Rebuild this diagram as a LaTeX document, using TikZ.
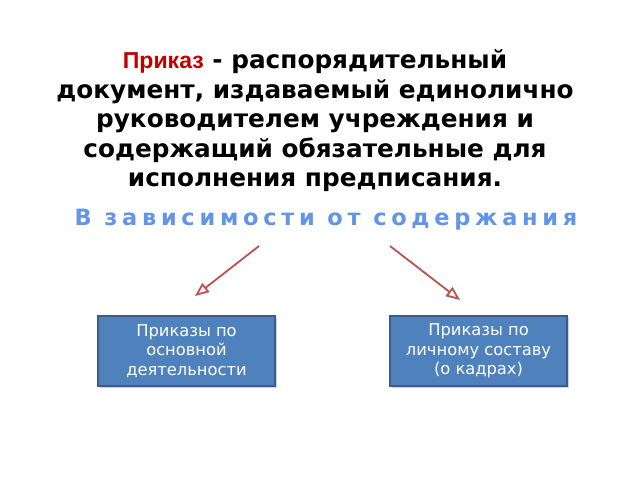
\documentclass[tikz,border=0pt]{standalone}
\usepackage{fontspec}
\setmainfont{DejaVu Sans}
\newfontfamily\spacedfont[LetterSpace=21]{DejaVu Sans}
\newfontfamily\redfont{Liberation Sans}
\usetikzlibrary{positioning}
\usetikzlibrary{arrows}
\usetikzlibrary{shadows}
\pgfdeclarelayer{nodelayer}
\pgfdeclarelayer{edgelayer}
\pgfsetlayers{main,edgelayer,nodelayer}
\definecolor{headred}{RGB}{192,0,0}
\definecolor{subblue}{RGB}{99,149,230}
\definecolor{arrowred}{RGB}{185,85,82}
\definecolor{boxblue}{RGB}{79,129,189}
\definecolor{boxline}{RGB}{56,93,138}
\tikzstyle{none}=[inner sep=0pt]
\tikzstyle{kind}=[draw=boxline, fill=boxblue, line width=1pt, inner sep=0pt,
  minimum width=4.425cm, minimum height=1.75cm, text=white, align=center,
  font=\fontsize{11.6}{13.9}\selectfont,
  drop shadow={shadow xshift=.04cm, shadow yshift=-.05cm, opacity=.35}]
\tikzset{branch/.style={draw=arrowred, line width=1.3pt, ->, >=open triangle 45}}

\begin{document}
\begin{tikzpicture}
        \useasboundingbox [fill=white] (0, 0) rectangle (16, 12);
        \begin{pgfonlayer}{nodelayer}
            \node [style=none, align=center, font=\bfseries\fontsize{17.6}{21}\selectfont] (0) at (7.875, 8.975)
                {{\redfont\fontsize{16.4}{21}\selectfont\color{headred}Приказ} - распорядительный\\
                 документ, издаваемый единолично\\
                 руководителем учреждения и\\
                 содержащий обязательные для\\
                 исполнения предписания.};
            \node [style=none, text=subblue, font=\spacedfont\bfseries\fontsize{16}{17}\selectfont] (1) at (8.15, 6.5) {В зависимости от содержания};
            \node [style=none] (2) at (6.475, 5.85) {};
            \node [style=none] (3) at (9.75, 5.85) {};
            \node [style=kind] (4) at (4.6625, 3.225) {Приказы по\\основной\\деятельности};
            \node [style=kind] (5) at (11.9625, 3.225) {Приказы по\\личному составу\\(о кадрах)};
            \coordinate (6) at (4.875, 4.6);
            \coordinate (7) at (11.5, 4.5);
        \end{pgfonlayer}
        \begin{pgfonlayer}{edgelayer}
            \draw [style=branch] (2.center) to (6);
            \draw [style=branch] (3.center) to (7);
        \end{pgfonlayer}
    \end{tikzpicture}
\end{document}
